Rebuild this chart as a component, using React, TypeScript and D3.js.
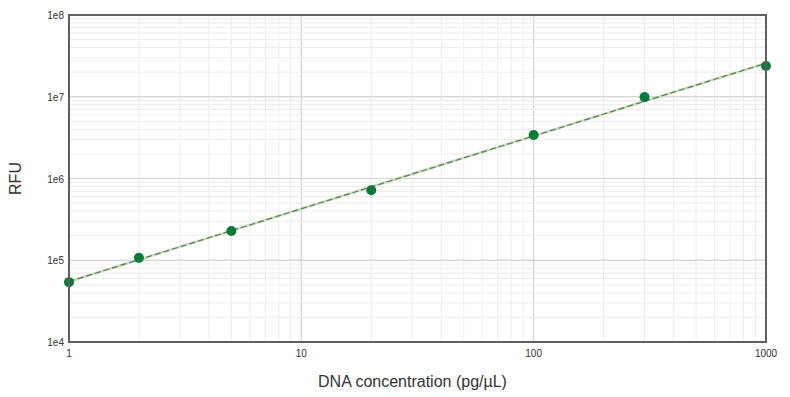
import * as d3 from "d3";
import React from "react";

const concentrations = [1, 2, 5, 20, 100, 300, 1000];
const rfu = [54000, 107000, 228000, 720000, 3400000, 9900000, 23800000];
const xTickLabels = ["1", "10", "100", "1000"];
const yTickLabels = ["1e4", "1e5", "1e6", "1e7", "1e8"];

const width = 790;
const height = 397;
const margin = { left: 69, top: 15, right: 24, bottom: 55 };

const App = () => {
  const chartWidth = width - margin.left - margin.right;
  const chartHeight = height - margin.top - margin.bottom;

  const x = d3.scaleLog().domain([1, 1000]).range([0, chartWidth]);
  const y = d3.scaleLog().domain([1e4, 1e8]).range([chartHeight, 0]);

  // minor grid lines
  const xGrid: number[] = [];
  for (let d = 1; d < 1000; d *= 10) for (let k = 1; k <= 10; k++) xGrid.push(d * k);
  const yGrid: number[] = [];
  for (let d = 1e4; d < 1e8; d *= 10) for (let k = 1; k <= 10; k++) yGrid.push(d * k);

  // least squares fit in log-log space
  const lx = concentrations.map(Math.log10);
  const ly = rfu.map(Math.log10);
  const mx = d3.mean(lx) as number;
  const my = d3.mean(ly) as number;
  const slope =
    d3.sum(lx, (v, i) => (v - mx) * (ly[i] - my)) / d3.sum(lx, (v) => (v - mx) ** 2);
  const icpt = my - slope * mx;
  const fit = (c: number) => Math.pow(10, icpt + slope * Math.log10(c));

  const line = d3
    .line<number>()
    .x((c) => x(c))
    .y((c) => y(fit(c)));
  const fitPath = line([1, 1000]) as string;

  const font = "Liberation Sans, Arial, sans-serif";

  return (
    <svg width={width} height={height} style={{ position: "absolute", left: 0, top: 0 }}>
      <rect width={width} height={height} fill="white" />
      <g transform={`translate(${margin.left},${margin.top})`}>
        {xGrid.map((v, i) => {
          const major = Math.abs(Math.log10(v) % 1) < 1e-9;
          return (
            <line
              key={"xg" + i}
              x1={x(v)}
              x2={x(v)}
              y1={0}
              y2={chartHeight}
              stroke={major ? "#d6d6d6" : "#ececec"}
              strokeWidth={1}
            />
          );
        })}
        {yGrid.map((v, i) => {
          const major = Math.abs(Math.log10(v) % 1) < 1e-9;
          return (
            <line
              key={"yg" + i}
              x1={0}
              x2={chartWidth}
              y1={y(v)}
              y2={y(v)}
              stroke={major ? "#d6d6d6" : "#ececec"}
              strokeWidth={1}
            />
          );
        })}
        <path d={fitPath} stroke="#c2e3b4" strokeWidth={2.5} fill="none" />
        <path d={fitPath} stroke="#6a716a" strokeWidth={1.2} strokeDasharray="6,3" fill="none" />
        {concentrations.map((c, i) => (
          <circle key={"p" + i} cx={x(c)} cy={y(rfu[i])} r={5} fill="#0b7a3b" />
        ))}
        <rect
          x={0}
          y={0}
          width={chartWidth}
          height={chartHeight}
          fill="none"
          stroke="#5f5f5f"
          strokeWidth={2}
        />
        {xTickLabels.map((t) => (
          <text
            key={"xt" + t}
            x={x(+t)}
            y={chartHeight + 15}
            textAnchor="middle"
            fontFamily={font}
            fontSize={10}
            fill="#333"
          >
            {t}
          </text>
        ))}
        {yTickLabels.map((t) => (
          <text
            key={"yt" + t}
            x={-5}
            y={y(+t) + 4}
            textAnchor="end"
            fontFamily={font}
            fontSize={10}
            fill="#333"
          >
            {t}
          </text>
        ))}
        <text
          x={chartWidth / 2 - 5}
          y={chartHeight + 45}
          textAnchor="middle"
          fontFamily={font}
          fontSize={16}
          fill="#333"
        >
          DNA concentration (pg/µL)
        </text>
        <text
          transform={`translate(${-48},${chartHeight / 2}) rotate(-90)`}
          textAnchor="middle"
          fontFamily={font}
          fontSize={16}
          fill="#333"
        >
          RFU
        </text>
      </g>
    </svg>
  );
};

export default App;
